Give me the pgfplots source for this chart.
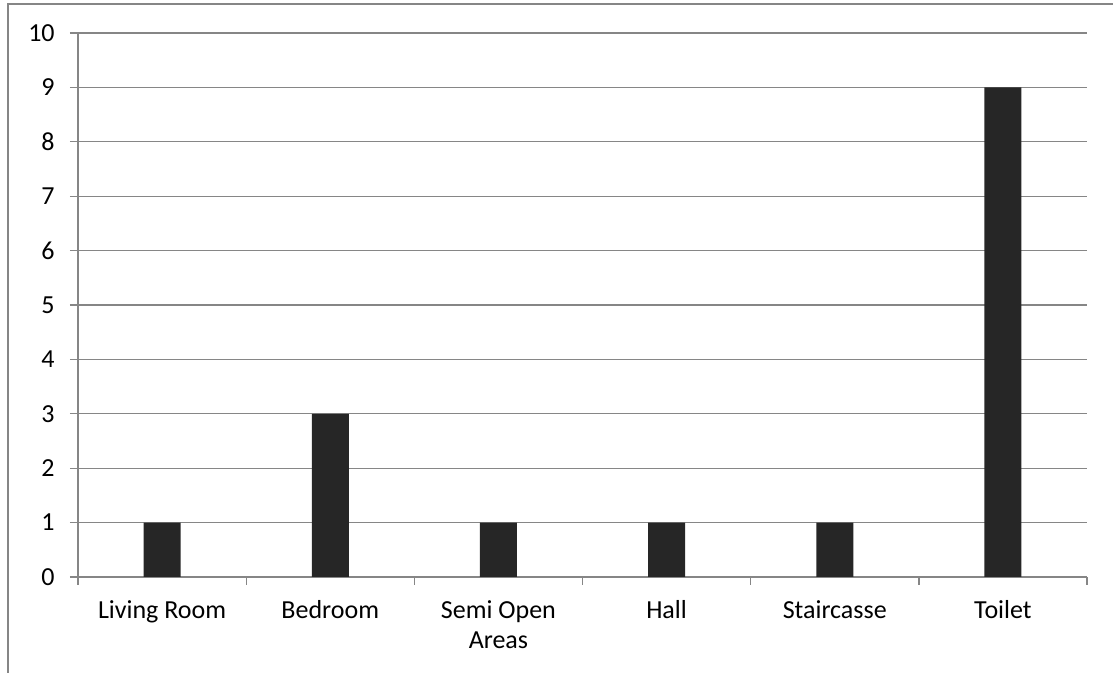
\documentclass[border=0pt]{standalone}
\usepackage{pgfplots}
\pgfplotsset{compat=1.18}
\usepackage{fontspec}
\setmainfont{Carlito}
\definecolor{gridgray}{RGB}{134,134,134}
\definecolor{bardark}{RGB}{38,38,38}

\begin{document}
\begin{tikzpicture}
  % page box and the chart's outer frame (1 px = 0.75pt)
  \useasboundingbox (0,0) rectangle (834.75pt,504.75pt);
  \draw[gridgray, line width=1pt] (6pt,0) -- (6pt,501.75pt) -- (834.75pt,501.75pt);
  \begin{axis}[
      at={(58.5pt,72pt)}, anchor=south west,
      scale only axis,
      width=756.75pt, height=408pt,
      xmin=-0.5, xmax=5.5,
      ymin=0, ymax=10,
      ytick={0,1,...,10},
      xtick={-0.5,0.5,...,5.5},
      x tick label as interval,
      xticklabels={Living Room,Bedroom,{Semi Open\\Areas},Hall,Staircasse,Toilet},
      axis x line*=bottom,
      axis y line*=left,
      axis line style={gridgray, line width=1pt},
      tick style={gridgray, line width=1pt},
      tick align=outside,
      major tick length=6pt,
      ymajorgrids=true,
      grid style={gridgray, line width=1pt},
      tick label style={font=\fontsize{19.5}{22.5}\selectfont, text=black},
      xticklabel style={align=center, yshift=-8pt},
      yticklabel style={xshift=-8pt},
      /pgf/number format/assume math mode=true,
  ]
  \addplot[ybar, bar width=27.75pt, fill=bardark, draw=none]
    coordinates {(0,1) (1,3) (2,1) (3,1) (4,1) (5,9)};
  \end{axis}
\end{tikzpicture}
\end{document}
